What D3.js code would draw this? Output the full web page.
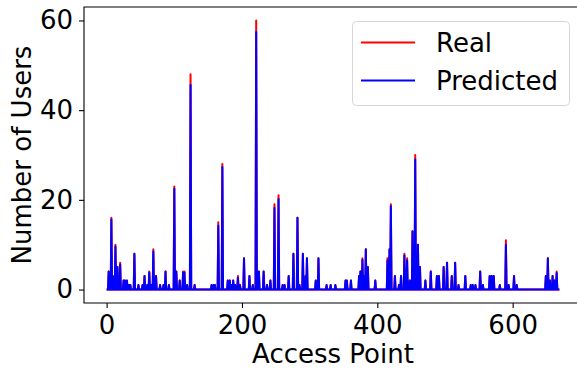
<!DOCTYPE html>
<html>
<head>
<meta charset="utf-8">
<script src="https://cdn.jsdelivr.net/npm/d3@7"></script>
<style>
    body { margin: 0; background: #fff; }
    text { font-family: "DejaVu Sans", sans-serif; fill: #000; }
</style>
</head>
<body>
<div id="chart"></div>
<script>
// access points with nonzero users, all others are zero
const numPoints = 670;
const spikeIdx = [3, 7, 9, 13, 16, 20, 25, 27, 30, 33, 35, 41, 47, 53, 56, 60, 63, 66, 69, 73,
    79, 84, 87, 92, 100, 103, 108, 113, 115, 119, 124, 130, 155, 158, 160, 165, 171, 179, 182, 184,
    187, 190, 194, 197, 203, 211, 216, 221, 225, 232, 237, 242, 248, 254, 260, 263, 269, 276, 282, 285,
    290, 294, 296, 309, 313, 325, 331, 338, 353, 355, 361, 373, 375, 378, 380, 383, 386, 397, 415, 418,
    420, 426, 432, 435, 440, 444, 448, 452, 456, 460, 463, 471, 479, 488, 491, 498, 503, 510, 515, 520,
    530, 538, 541, 545, 552, 556, 566, 569, 572, 581, 590, 594, 602, 606, 649, 652, 655, 659, 662, 665];
const realVals = [4, 16, 3, 10, 5, 6, 2, 2, 2, 1, 1, 8, 1, 1, 3, 1, 4, 1, 9, 3,
    1, 1, 4, 1, 23, 4, 2, 4, 4, 1, 48, 1, 1, 1, 1, 15, 28, 2, 2, 1,
    2, 1, 3, 1, 7, 3, 1, 60, 4, 4, 1, 2, 19, 21, 1, 1, 3, 8, 16, 1,
    8, 3, 7, 2, 7, 1, 1, 1, 2, 2, 2, 3, 4, 7, 3, 9, 5, 2, 7, 9,
    19, 3, 1, 3, 8, 7, 2, 13, 30, 10, 5, 2, 4, 3, 3, 5, 6, 3, 6, 1,
    3, 1, 1, 1, 4, 1, 3, 3, 3, 1, 11, 1, 3, 1, 3, 7, 2, 3, 2, 4];
const predVals = [4, 15.6, 3, 9.6, 5, 5.6, 2, 2, 2, 1, 1, 8, 1, 1, 3, 1, 3.8, 1, 8.5, 3,
    1, 1, 4, 1, 22.5, 4, 2, 3.8, 3.8, 1, 45.6, 1, 1, 1, 1, 14.2, 27.3, 2, 2, 1,
    2, 1, 2.6, 1, 7, 3, 1, 57.4, 4, 4, 1, 2, 18.2, 20.2, 1, 1, 3, 8, 16, 1,
    8, 3, 7, 2, 7, 1, 1, 1, 2, 2, 2, 3, 4, 6.6, 3, 9, 5, 2, 6.5, 9,
    18.6, 3, 1, 3, 7.6, 6.5, 2, 13, 29, 10, 5, 2, 4, 3, 3, 5, 6, 3, 6, 1,
    3, 1, 1, 1, 4, 1, 3, 3, 3, 1, 10, 1, 3, 1, 3, 7, 2, 3, 2, 3.7];
const xTicks = [0, 200, 400, 600];
const yTicks = [0, 20, 40, 60];
const seriesNames = ['Real', 'Predicted'];
const seriesColors = ['#ff0000', '#0000ff'];

const real = d3.range(numPoints).map(() => 0);
const pred = d3.range(numPoints).map(() => 0);
spikeIdx.forEach((k, i) => { real[k] = realVals[i]; pred[k] = predVals[i]; });

const width = 577, height = 372;
const plotLeft = 84, plotRight = 582, plotTop = 7, plotBottom = 303;
const fontSize = '26px';

const xPad = (numPoints - 1) * 0.05;
const x = d3.scaleLinear().domain([-xPad, numPoints - 1 + xPad]).range([plotLeft, plotRight]);
const y = d3.scaleLinear().domain([-3, 63]).range([plotBottom, plotTop]);

let svg = d3.select('#chart').append('svg')
    .attr('width', width)
    .attr('height', height);

svg.append('clipPath').attr('id', 'clip')
    .append('rect')
    .attr('x', plotLeft).attr('y', plotTop)
    .attr('width', plotRight - plotLeft).attr('height', plotBottom - plotTop);

const line = d3.line()
    .x((d, i) => x(i))
    .y(d => y(d));

let plot = svg.append('g').attr('clip-path', 'url(#clip)');
[real, pred].forEach((s, i) => {
    plot.append('path')
        .datum(s)
        .attr('d', line)
        .attr('fill', 'none')
        .attr('stroke', seriesColors[i])
        .attr('stroke-width', 2)
        .attr('stroke-linejoin', 'round');
});

// axes
let xAxis = svg.append('g')
    .attr('transform', 'translate(0,' + plotBottom + ')')
    .call(d3.axisBottom(x).tickValues(xTicks).tickSize(5).tickPadding(8));
let yAxis = svg.append('g')
    .attr('transform', 'translate(' + plotLeft + ',0)')
    .call(d3.axisLeft(y).tickValues(yTicks).tickSize(5).tickPadding(6));

[xAxis, yAxis].forEach(a => {
    a.select('.domain').remove();
    a.selectAll('line').attr('stroke', '#000').attr('stroke-width', 1.1);
    a.selectAll('text')
        .style('font-family', '"DejaVu Sans", sans-serif')
        .style('font-size', fontSize)
        .attr('fill', '#000');
});

// spines (right one falls outside the picture)
svg.append('path')
    .attr('d', 'M' + plotRight + ',' + plotTop + 'H' + plotLeft + 'V' + plotBottom + 'H' + plotRight)
    .attr('fill', 'none')
    .attr('stroke', '#000')
    .attr('stroke-width', 1.1);

svg.append('text')
    .attr('x', (plotLeft + plotRight) / 2)
    .attr('y', 363)
    .attr('text-anchor', 'middle')
    .style('font-size', fontSize)
    .text('Access Point');

svg.append('text')
    .attr('transform', 'translate(31,' + ((plotTop + plotBottom) / 2) + ') rotate(-90)')
    .attr('text-anchor', 'middle')
    .style('font-size', fontSize)
    .text('Number of Users');

// legend
let legend = svg.append('g');
legend.append('rect')
    .attr('x', 352.5).attr('y', 21.5)
    .attr('width', 217).attr('height', 84)
    .attr('rx', 4)
    .attr('fill', '#fff').attr('fill-opacity', 0.8)
    .attr('stroke', '#d6d6d6').attr('stroke-width', 1);

seriesNames.forEach((name, i) => {
    const ly = 42.5 + i * 38;
    legend.append('line')
        .attr('x1', 361).attr('x2', 415)
        .attr('y1', ly).attr('y2', ly)
        .attr('stroke', seriesColors[i])
        .attr('stroke-width', 2);
    legend.append('text')
        .attr('x', 436)
        .attr('y', ly + 9.5)
        .style('font-size', fontSize)
        .text(name);
});
</script>
</body>
</html>
